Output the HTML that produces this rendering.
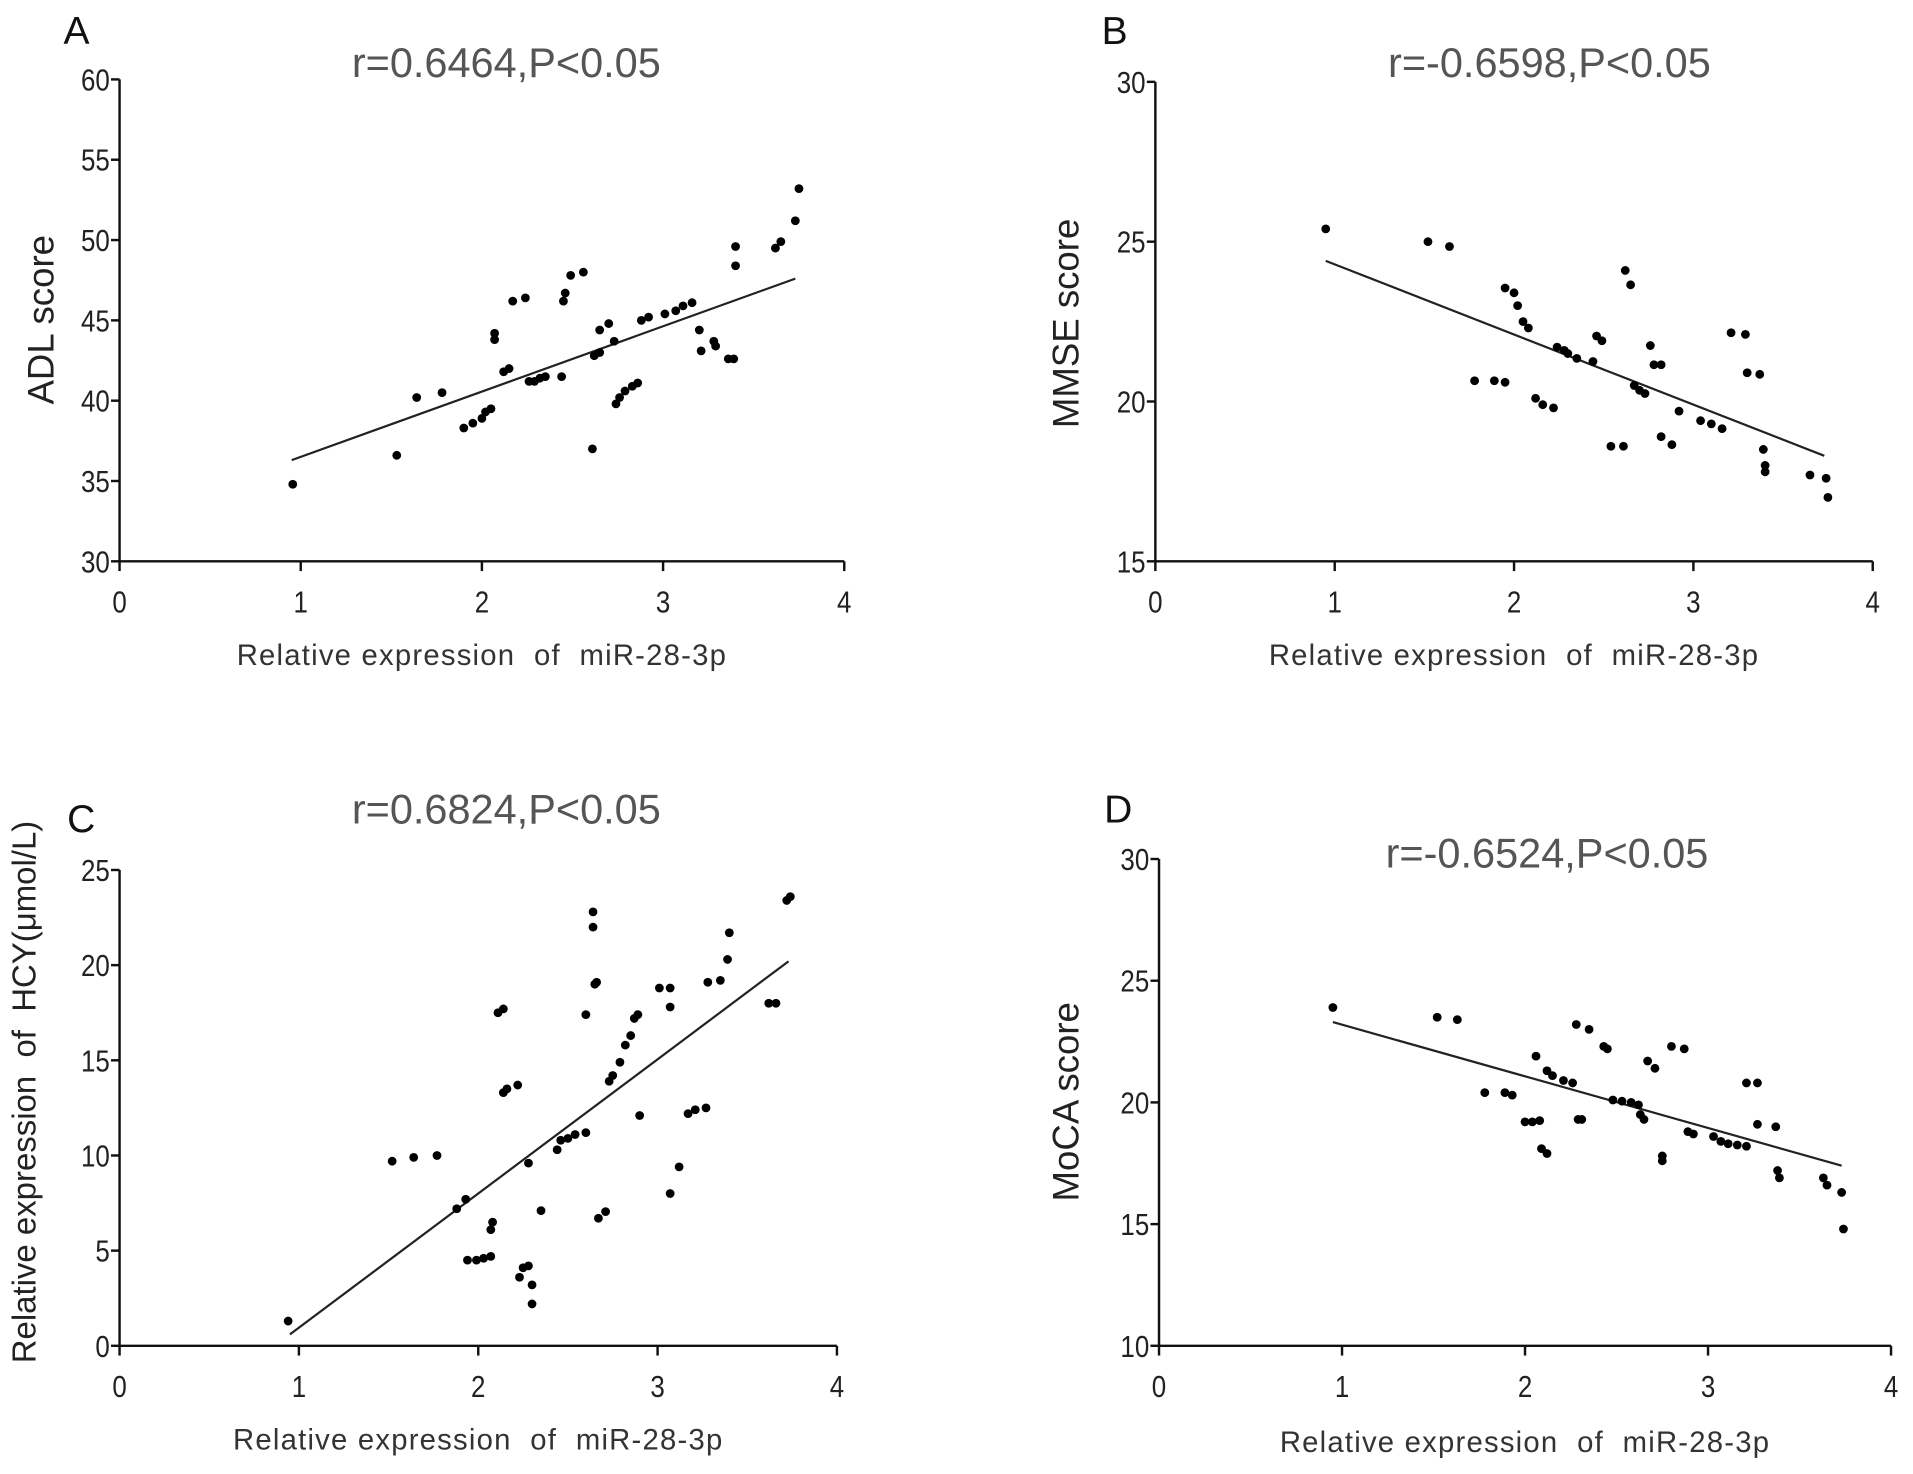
<!DOCTYPE html>
<html><head><meta charset="utf-8"><style>
html,body{margin:0;padding:0;background:#fff;}
svg{display:block;font-family:"Liberation Sans",Arial,sans-serif;}
</style></head><body>
<svg id="fig" width="1913" height="1474" viewBox="0 0 1568 1208" xmlns="http://www.w3.org/2000/svg"></svg>
<script>
// Panel A data (ADL)
const aX=[0.956,1.53,1.64,1.78,1.90,1.95,2.0,2.02,2.05,2.07,2.07,2.12,2.15,2.17,2.24,2.26,2.29,2.32,2.35,2.44,2.45,2.46,2.49,2.56,2.61,2.62,2.65,2.65,2.70,2.73,2.74,2.76,2.79,2.83,2.86,2.88,2.92,3.01,3.07,3.11,3.16,3.2,3.21,3.28,3.29,3.36,3.39,3.40,3.40,3.62,3.65,3.73,3.75];
const aY=[34.8,36.6,40.2,40.5,38.3,38.6,38.9,39.3,39.5,43.8,44.2,41.8,42.0,46.2,46.4,41.2,41.2,41.4,41.5,41.5,46.2,46.7,47.8,48.0,37.0,42.8,43.0,44.4,44.8,43.7,39.8,40.2,40.6,40.9,41.1,45.0,45.2,45.4,45.6,45.9,46.1,44.4,43.1,43.7,43.4,42.6,42.6,49.6,48.4,49.5,49.9,51.2,53.2];
const aFit=[[0.95,36.3],[3.73,47.6]];
const aTicksY=[30,35,40,45,50,55,60];
// Panel B data (MMSE)
const bX=[0.95,1.52,1.64,1.78,1.89,1.95,1.95,2.0,2.02,2.05,2.08,2.12,2.16,2.22,2.24,2.28,2.30,2.35,2.44,2.46,2.49,2.54,2.61,2.62,2.65,2.67,2.70,2.73,2.76,2.78,2.82,2.82,2.88,2.92,3.04,3.10,3.16,3.21,3.29,3.30,3.37,3.39,3.40,3.40,3.65,3.74,3.75];
const bY=[25.4,25.0,24.85,20.65,20.65,20.6,23.55,23.4,23.0,22.5,22.3,20.1,19.9,19.8,21.7,21.6,21.5,21.35,21.25,22.05,21.9,18.6,18.6,24.1,23.65,20.5,20.35,20.25,21.75,21.15,21.15,18.9,18.65,19.7,19.4,19.3,19.15,22.15,22.1,20.9,20.85,18.5,18.0,17.8,17.7,17.6,17.0];
const bFit=[[0.95,24.4],[3.73,18.3]];
const bTicksY=[15,20,25,30];
// Panel C data (HCY)
const cX=[0.94,1.52,1.64,1.77,1.88,1.93,1.94,1.99,2.03,2.07,2.07,2.08,2.11,2.14,2.14,2.16,2.22,2.23,2.25,2.28,2.28,2.30,2.30,2.35,2.44,2.46,2.50,2.54,2.60,2.60,2.64,2.64,2.65,2.66,2.67,2.71,2.73,2.75,2.79,2.82,2.85,2.87,2.89,2.90,3.01,3.07,3.07,3.07,3.12,3.17,3.21,3.27,3.28,3.35,3.39,3.40,3.62,3.66,3.72,3.74];
const cY=[1.3,9.7,9.9,10.0,7.2,7.7,4.5,4.5,4.6,4.7,6.1,6.5,17.5,17.7,13.3,13.5,13.7,3.6,4.1,4.2,9.6,3.2,2.2,7.1,10.3,10.8,10.9,11.1,11.2,17.4,22.0,22.8,19.0,19.1,6.7,7.05,13.9,14.2,14.9,15.8,16.3,17.2,17.4,12.1,18.8,18.8,17.8,8.0,9.4,12.2,12.4,12.5,19.1,19.2,20.3,21.7,18.0,18.0,23.4,23.6];
const cFit=[[0.95,0.6],[3.73,20.2]];
const cTicksY=[0,5,10,15,20,25];
// Panel D data (MoCA)
const dX=[0.95,1.52,1.63,1.78,1.89,1.93,2.0,2.04,2.08,2.06,2.09,2.12,2.12,2.15,2.21,2.26,2.29,2.31,2.28,2.35,2.43,2.45,2.48,2.53,2.58,2.62,2.63,2.65,2.67,2.71,2.75,2.75,2.8,2.87,2.89,2.92,3.03,3.07,3.11,3.16,3.21,3.21,3.27,3.27,3.37,3.38,3.39,3.63,3.65,3.73,3.74];
const dY=[23.9,23.5,23.4,20.4,20.4,20.3,19.2,19.2,19.25,21.9,18.1,17.9,21.3,21.1,20.9,20.8,19.3,19.3,23.2,23.0,22.3,22.2,20.1,20.05,20.0,19.9,19.5,19.3,21.7,21.4,17.8,17.6,22.3,22.2,18.8,18.7,18.6,18.4,18.3,18.25,18.2,20.8,20.8,19.1,19.0,17.2,16.9,16.9,16.6,16.3,14.8];
const dFit=[[0.95,23.3],[3.73,17.4]];
const dTicksY=[10,15,20,25,30];
const xTicks=[0,1,2,3,4];

const svg=document.getElementById('fig');
const NS='http://www.w3.org/2000/svg';
function mk(tag,attrs,parent){const e=document.createElementNS(NS,tag);for(const k in attrs)e.setAttribute(k,attrs[k]);(parent||svg).appendChild(e);return e;}

function panel(id,cfg,xs,ys,fit,yTicks){
  const g=mk('g',{});
  
  
  const sx=v=>cfg.x0+(v-0)/4*(cfg.x1-cfg.x0);
  const ymin=yTicks[0],ymax=yTicks[yTicks.length-1];
  const sy=v=>cfg.y0-(v-ymin)/(ymax-ymin)*(cfg.y0-cfg.y1);
  const ax=mk('g',{},g);
  
  
  mk('line',{x1:cfg.x0,y1:cfg.y0,x2:cfg.x0,y2:cfg.y1,stroke:'#111','stroke-width':2},ax);
  yTicks.forEach(t=>{
    mk('line',{x1:cfg.x0-7,y1:sy(t),x2:cfg.x0,y2:sy(t),stroke:'#111','stroke-width':2},ax);
    const tx=mk('text',{x:0,y:0,'text-anchor':'end','font-size':25,fill:'#222',transform:`translate(${cfg.x0-8},${sy(t)+9}) scale(0.85,1)`},ax);
    tx.textContent=t;
    
    
  });
  const bx=mk('g',{},g);
  
  
  mk('line',{x1:cfg.x0,y1:cfg.y0,x2:cfg.x1,y2:cfg.y0,stroke:'#111','stroke-width':2},bx);
  xTicks.forEach(t=>{
    mk('line',{x1:sx(t),y1:cfg.y0,x2:sx(t),y2:cfg.y0+8,stroke:'#111','stroke-width':2},bx);
    const tx=mk('text',{x:0,y:0,'text-anchor':'middle','font-size':25,fill:'#222',transform:`translate(${sx(t)},${cfg.y0+42}) scale(0.85,1)`},bx);
    tx.textContent=t;
    
    
  });
  const xl=mk('text',{x:(cfg.x0+cfg.x1)/2,y:cfg.xly,'text-anchor':'middle','font-size':24,fill:'#333','letter-spacing':'1'},g);
  xl.textContent='Relative expression  of  miR-28-3p';
  xl.style.whiteSpace='pre';
  
  
  const yl=mk('text',{x:0,y:0,'text-anchor':'middle','font-size':cfg.ylfs,fill:'#222',transform:`translate(${cfg.ylx},${cfg.yly}) rotate(-90)`},g);
  yl.textContent=cfg.ylabel;
  yl.style.whiteSpace='pre';
  
  
  const ti=mk('text',{x:cfg.tx,y:cfg.ty,'text-anchor':'middle','font-size':34,fill:'#555'},g);
  ti.textContent=cfg.title;
  
  
  const le=mk('text',{x:cfg.lx,y:cfg.ly,'font-size':32,fill:'#111'},g);
  le.textContent=id;
  
  
  const fl=mk('line',{x1:sx(fit[0][0]),y1:sy(fit[0][1]),x2:sx(fit[1][0]),y2:sy(fit[1][1]),stroke:'#222','stroke-width':1.8},g);
  
  
  const pts=mk('g',{},g);
  
  
  xs.forEach((v,i)=>{
    const c=mk('circle',{cx:sx(v),cy:sy(ys[i]),r:3.6,fill:'#000'},pts);
    
    
  });
}
panel('A',{x0:98,x1:692,y0:460,y1:65,xly:545,ylx:44,yly:262,ylfs:30,ylabel:'ADL score',tx:415,ty:63,lx:52,ly:36,title:'r=0.6464,P<0.05'},aX,aY,aFit,aTicksY);
panel('B',{x0:947,x1:1535,y0:460,y1:67,xly:545,ylx:884,yly:265,ylfs:30,ylabel:'MMSE score',tx:1270,ty:63,lx:903,ly:36,title:'r=-0.6598,P<0.05'},bX,bY,bFit,bTicksY);
panel('C',{x0:98,x1:686,y0:1103,y1:713,xly:1188,ylx:29,yly:895,ylfs:27,ylabel:'Relative expression  of  HCY(μmol/L)',tx:415,ty:675,lx:55,ly:682,title:'r=0.6824,P<0.05'},cX,cY,cFit,cTicksY);
panel('D',{x0:950,x1:1550,y0:1103,y1:704,xly:1190,ylx:884,yly:903,ylfs:30,ylabel:'MoCA score',tx:1268,ty:711,lx:905,ly:674,title:'r=-0.6524,P<0.05'},dX,dY,dFit,dTicksY);
</script>
</body></html>
